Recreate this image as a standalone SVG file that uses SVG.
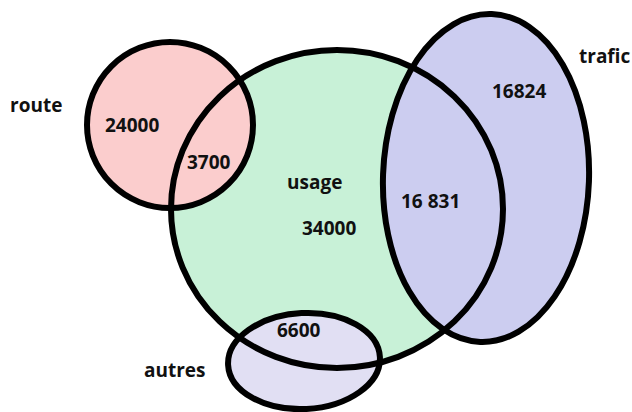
<svg xmlns="http://www.w3.org/2000/svg" xmlns:xlink="http://www.w3.org/1999/xlink" width="632" height="412" viewBox="0 0 632 412">
  <style>
    .lbl { font-family: "Open Sans", "Liberation Sans", sans-serif; font-weight: bold; font-size: 19px; fill: #111; }
    .edge { fill: none; stroke: #000; stroke-width: 6; }
  </style>
  <defs>
    <ellipse id="shape-usage" cx="337" cy="209" rx="166" ry="159"/>
    <ellipse id="shape-route" cx="170" cy="125" rx="83" ry="83"/>
    <ellipse id="shape-trafic" cx="486" cy="178" rx="103" ry="164" transform="rotate(2 486 178)"/>
    <ellipse id="shape-autres" cx="304" cy="361" rx="76" ry="48" transform="rotate(-3 304 361)"/>
  </defs>
  <rect width="632" height="412" fill="#fff"/>

  <g id="usage">
    <use xlink:href="#shape-usage" fill="#c8f1d7"/>
    <text class="lbl" x="287" y="189">usage</text>
    <text class="lbl" x="302" y="235">34000</text>
  </g>

  <g id="route">
    <use xlink:href="#shape-route" fill="#fbcdcd"/>
    <text class="lbl" x="10" y="112">route</text>
    <text class="lbl" x="105" y="132">24000</text>
    <text class="lbl" x="187" y="169">3700</text>
  </g>

  <g id="trafic">
    <use xlink:href="#shape-trafic" fill="#cccdf0"/>
    <text class="lbl" x="579" y="63">trafic</text>
    <text class="lbl" x="492" y="98">16824</text>
    <text class="lbl" x="401" y="208">16 831</text>
  </g>

  <g id="autres">
    <use xlink:href="#shape-autres" fill="#e1dff3"/>
    <text class="lbl" x="144" y="377">autres</text>
    <text class="lbl" x="277" y="337">6600</text>
  </g>

  <!-- outlines drawn last so every border stays visible across overlaps -->
  <g id="connectors">
    <use xlink:href="#shape-usage" class="edge"/>
    <use xlink:href="#shape-route" class="edge"/>
    <use xlink:href="#shape-trafic" class="edge"/>
    <use xlink:href="#shape-autres" class="edge"/>
  </g>
</svg>
